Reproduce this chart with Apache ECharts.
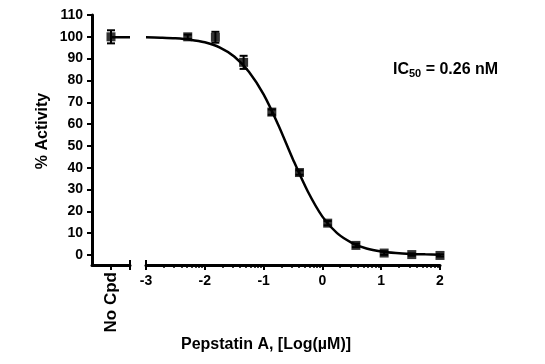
<!DOCTYPE html>
<html><head><meta charset="utf-8">
<script src="https://cdn.jsdelivr.net/npm/echarts@6/dist/echarts.min.js"></script>
<style>html,body{margin:0;padding:0;background:#fff}#c{width:545px;height:364px}</style>
</head><body><div id="c"></div>
<script>
// ---- data ----
const noCpdValue = 100.0;
const noCpdError = 3.0;
const noCpdLine = [[1, 99.8], [2, 99.8]];
const logConc = [-2.29, -1.82, -1.34, -0.86, -0.39, 0.09, 0.57, 1.05, 1.52, 2.0];
const activity = [100.0, 99.8, 88.3, 65.5, 37.8, 14.6, 4.4, 0.9, 0.2, -0.2];
const activityErr = [1.0, 2.5, 3.0, 1.2, 1.0, 1.0, 0.8, 0.8, 0.5, 0.5];
const fitX = [-3, -2.75, -2.5, -2.25, -2, -1.75, -1.5, -1.25, -1, -0.75, -0.5, -0.25, 0, 0.25, 0.5, 0.75, 1, 1.25, 1.5, 1.75, 2];
const fitY = [99.8, 99.6, 99.3, 98.7, 97.5, 95.2, 91.0, 84.0, 73.6, 59.6, 43.8, 29.2, 17.6, 10.0, 5.6, 3.0, 1.6, 0.9, 0.5, 0.3, 0.15];
const yTicks = [0, 10, 20, 30, 40, 50, 60, 70, 80, 90, 100, 110];
const xTicks = [-3, -2, -1, 0, 1, 2];
const xMinorTicks = [];
for (let d = -3; d < 2; d++) for (let k = 2; k <= 9; k++) xMinorTicks.push(d + Math.log10(k));
const ic50Label = '0.26 nM';

const FONT = "'Liberation Sans', Arial, sans-serif";
const YMIN = -4.58, YMAX = 110;

const chart = echarts.init(document.getElementById('c'), null, {renderer: 'canvas'});

function errRender(params, api) {
  const x = api.value(0), y = api.value(1), e = api.value(2);
  const top = api.coord([x, y + e]);
  const bot = api.coord([x, y - e]);
  const w = 4;
  const st = {stroke: '#000', lineWidth: 2};
  return {type: 'group', children: [
    {type: 'line', shape: {x1: top[0], y1: top[1], x2: bot[0], y2: bot[1]}, style: st},
    {type: 'line', shape: {x1: top[0] - w, y1: top[1], x2: top[0] + w, y2: top[1]}, style: st},
    {type: 'line', shape: {x1: bot[0] - w, y1: bot[1], x2: bot[0] + w, y2: bot[1]}, style: st}
  ]};
}

const lab = {fontFamily: FONT, fontWeight: 'bold', color: '#000', fontSize: 14};

chart.setOption({
  animation: false,
  grid: [
    {left: 92, top: 15, width: 38, height: 250},
    {left: 146, top: 15, width: 294, height: 250}
  ],
  xAxis: [
    {gridIndex: 0, type: 'value', min: 0, max: 2, position: 'bottom',
     axisLine: {onZero: false, lineStyle: {color: '#000', width: 3}},
     axisTick: {customValues: [1, 2], length: 5, lineStyle: {color: '#000', width: 2}},
     axisLabel: Object.assign({}, lab, {customValues: [1], formatter: () => 'No Cpd', rotate: 90, margin: 7, fontSize: 17}),
     splitLine: {show: false}},
    {gridIndex: 0, type: 'value', min: 0, max: 2, position: 'bottom',
     axisLine: {show: false, onZero: false},
     axisTick: {customValues: [2], inside: true, length: 5, lineStyle: {color: '#000', width: 2}},
     axisLabel: {show: false}, splitLine: {show: false}},
    {gridIndex: 1, type: 'value', min: -3, max: 2, position: 'bottom',
     axisLine: {onZero: false, lineStyle: {color: '#000', width: 3}},
     axisTick: {customValues: xTicks, length: 5, lineStyle: {color: '#000', width: 2}},
     axisLabel: Object.assign({customValues: xTicks, margin: 9, formatter: v => String(v)}, lab),
     splitLine: {show: false}},
    {gridIndex: 1, type: 'value', min: -3, max: 2, position: 'bottom',
     axisLine: {show: false, onZero: false},
     axisTick: {customValues: xMinorTicks, length: 3, lineStyle: {color: '#000', width: 1.5}},
     axisLabel: {show: false}, splitLine: {show: false}},
    {gridIndex: 1, type: 'value', min: -3, max: 2, position: 'bottom',
     axisLine: {show: false, onZero: false},
     axisTick: {customValues: [-3], inside: true, length: 5, lineStyle: {color: '#000', width: 2}},
     axisLabel: {show: false}, splitLine: {show: false}}
  ],
  yAxis: [
    {gridIndex: 0, type: 'value', min: YMIN, max: YMAX,
     axisLine: {show: true, onZero: false, lineStyle: {color: '#000', width: 3}},
     axisTick: {show: true, customValues: yTicks, length: 5, lineStyle: {color: '#000', width: 2}},
     axisLabel: Object.assign({customValues: yTicks, margin: 9}, lab),
     splitLine: {show: false}},
    {gridIndex: 1, type: 'value', min: YMIN, max: YMAX, show: false, splitLine: {show: false}}
  ],
  series: [
    {type: 'line', xAxisIndex: 0, yAxisIndex: 0, data: noCpdLine, symbol: 'none',
     lineStyle: {color: '#000', width: 2.5}},
    {type: 'custom', xAxisIndex: 0, yAxisIndex: 0, renderItem: errRender,
     data: [[1, noCpdValue, noCpdError]], z: 3},
    {type: 'scatter', xAxisIndex: 0, yAxisIndex: 0, data: [[1, noCpdValue]],
     symbol: 'rect', symbolSize: 9, itemStyle: {color: '#000'}, z: 4},
    {type: 'line', xAxisIndex: 2, yAxisIndex: 1, data: fitX.map((x, i) => [x, fitY[i]]),
     symbol: 'none', smooth: 0.3, lineStyle: {color: '#000', width: 2.5}},
    {type: 'custom', xAxisIndex: 2, yAxisIndex: 1, renderItem: errRender,
     data: logConc.map((x, i) => [x, activity[i], activityErr[i]]), z: 3},
    {type: 'scatter', xAxisIndex: 2, yAxisIndex: 1, data: logConc.map((x, i) => [x, activity[i]]),
     symbol: 'rect', symbolSize: 9, itemStyle: {color: '#000'}, z: 4}
  ],
  graphic: [
    {type: 'text', x: 43, y: 131, rotation: Math.PI / 2,
     style: {text: '% Activity', fontFamily: FONT, fontWeight: 'bold', fontSize: 16, fill: '#000',
             align: 'center', verticalAlign: 'middle'}},
    {type: 'text', x: 266, y: 345,
     style: {text: 'Pepstatin A, [Log(µM)]', fontFamily: FONT, fontWeight: 'bold', fontSize: 16, fill: '#000',
             align: 'center', verticalAlign: 'middle'}},
    {type: 'text', x: 393, y: 70,
     style: {text: 'IC{s|50} = ' + ic50Label, fontFamily: FONT, fontWeight: 'bold', fontSize: 16, fill: '#000',
             align: 'left', verticalAlign: 'middle',
             rich: {s: {fontFamily: FONT, fontWeight: 'bold', fontSize: 11, fill: '#000', padding: [8, 0, 0, 0]}}}}
  ]
});
</script></body></html>
